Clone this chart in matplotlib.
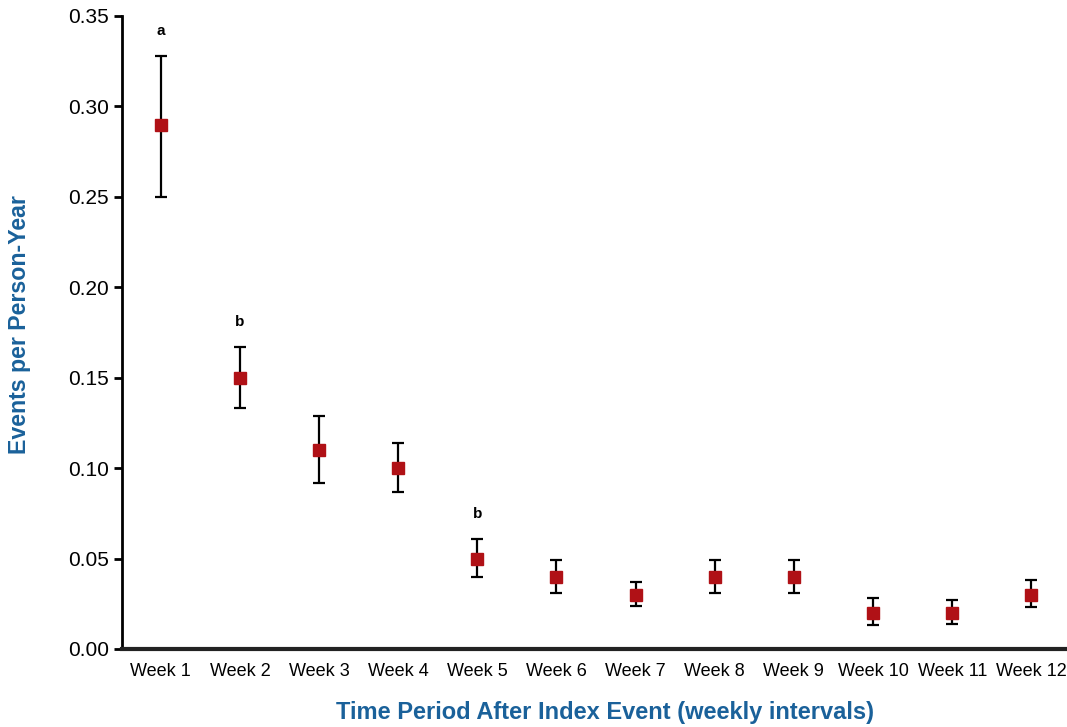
import matplotlib
matplotlib.use("Agg")
import matplotlib.pyplot as plt

# data
weeks = ["Week 1", "Week 2", "Week 3", "Week 4", "Week 5", "Week 6",
         "Week 7", "Week 8", "Week 9", "Week 10", "Week 11", "Week 12"]
rate = [0.29, 0.15, 0.11, 0.10, 0.05, 0.04, 0.03, 0.04, 0.04, 0.02, 0.02, 0.03]
ci_low = [0.25, 0.133, 0.092, 0.087, 0.040, 0.031, 0.024, 0.031, 0.031, 0.013, 0.014, 0.023]
ci_high = [0.328, 0.167, 0.129, 0.114, 0.061, 0.049, 0.037, 0.049, 0.049, 0.028, 0.027, 0.038]
notes = {0: "a", 1: "b", 4: "b"}

plt.rcParams['font.family'] = ['Liberation Sans', 'DejaVu Sans']
blue = "#1a619a"
red = "#b01116"

fig = plt.figure(figsize=(10.67, 7.27), dpi=100)
ax = fig.add_axes([0.1143, 0.1073, 0.8857, 0.8707])

x = list(range(len(weeks)))
err = [[r - lo for r, lo in zip(rate, ci_low)], [hi - r for r, hi in zip(rate, ci_high)]]
ax.errorbar(x, rate, yerr=err, fmt="none", ecolor="black", elinewidth=1.6,
            capsize=4.5, capthick=1.6, zorder=2)
ax.plot(x, rate, "s", color=red, markersize=8, zorder=3)

for i, t in notes.items():
    ax.annotate(t, (i, ci_high[i]), xytext=(0, 18), textcoords="offset points",
                ha="center", va="center", fontsize=11, fontweight="bold")

ax.set_xlim(-0.49, 11.45)
ax.set_ylim(0, 0.35)
ax.set_xticks(x)
ax.set_xticklabels(weeks, fontsize=13)
ax.set_yticks([0, 0.05, 0.10, 0.15, 0.20, 0.25, 0.30, 0.35])
ax.set_yticklabels(["0.00", "0.05", "0.10", "0.15", "0.20", "0.25", "0.30", "0.35"], fontsize=15)
ax.tick_params(axis="x", length=0, pad=10)
ax.tick_params(axis="y", length=6, width=2, pad=3.5)

for s in ["top", "right"]:
    ax.spines[s].set_visible(False)
ax.spines["left"].set_linewidth(2)
ax.spines["bottom"].set_linewidth(3)
ax.spines["bottom"].set_color("#222222")

ax.set_ylabel("Events per Person-Year", fontsize=16.7, fontweight="bold", color=blue)
ax.yaxis.set_label_coords(-0.108, 0.512)
ax.yaxis.label.set_va("center")
ax.set_xlabel("Time Period After Index Event (weekly intervals)", fontsize=17,
              fontweight="bold", color=blue)
ax.xaxis.set_label_coords(0.511, -0.1)
ax.xaxis.label.set_va("center")

fig.savefig("out.png", dpi=100)
